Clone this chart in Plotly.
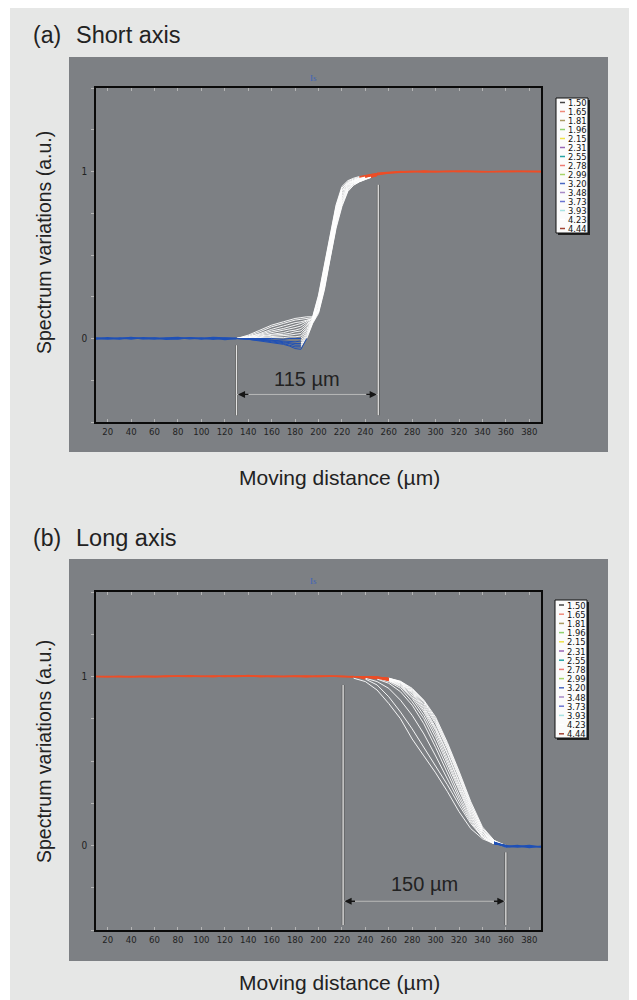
import plotly.graph_objects as go

# ---------------- data ----------------
legend_labels = ["1.50", "1.65", "1.81", "1.96", "2.15", "2.31", "2.55", "2.78",
                 "2.99", "3.20", "3.48", "3.73", "3.93", "4.23", "4.44"]
legend_colors = ["#454545", "#ef8a7a", "#a89a62", "#8fd06e", "#efe24a", "#9a66b4",
                 "#26a3a3", "#ef7a72", "#a6d468", "#4a68c2", "#a88ac6", "#6a74d2",
                 "#a8e2e2", "#ffffff", "#a24434"]

x_tick_vals = [20, 40, 60, 80, 100, 120, 140, 160, 180, 200, 220, 240, 260, 280, 300, 320, 340, 360, 380]
x_tick_text = [str(v) for v in x_tick_vals]
y_tick_vals = [-0.5, -0.25, 0, 0.25, 0.5, 0.75, 1, 1.25, 1.5]
y_tick_text = ["", "", "0", "", "", "", "1", "", ""]

# Panel (a) short axis
xa_base = [10, 20, 30, 40, 50, 60, 70, 80, 90, 100, 110, 120, 130]
ya_base_1 = [0.0, 0.005, -0.003, 0.004, 0.0, -0.004, 0.003, 0.006, -0.002, 0.003, -0.005, 0.002, 0.0]
ya_base_2 = [-0.004, 0.0, 0.004, -0.003, 0.005, 0.002, -0.005, 0.0, 0.004, -0.003, 0.003, -0.006, 0.0]
ya_base_3 = [0.003, -0.003, 0.0, 0.006, -0.002, 0.004, 0.0, -0.004, 0.005, 0.0, 0.006, 0.003, 0.0]

xa_trans = [130, 140, 150, 160, 170, 175, 180, 185, 190, 195, 200, 205, 210, 215, 220, 225, 230, 235, 240, 245, 250]
ya_curves = [
    [0.0, 0.02, 0.05, 0.08, 0.10, 0.11, 0.12, 0.125, 0.13, 0.13, 0.26, 0.44, 0.63, 0.80, 0.91, 0.945, 0.96, 0.97, 0.978, 0.983, 0.988],
    [0.0, 0.015, 0.04, 0.07, 0.09, 0.10, 0.11, 0.115, 0.12, 0.125, 0.25, 0.42, 0.61, 0.79, 0.90, 0.94, 0.955, 0.965, 0.975, 0.982, 0.987],
    [0.0, 0.01, 0.03, 0.055, 0.075, 0.085, 0.095, 0.10, 0.11, 0.12, 0.24, 0.41, 0.60, 0.78, 0.90, 0.935, 0.95, 0.962, 0.972, 0.98, 0.985],
    [0.0, 0.01, 0.025, 0.045, 0.06, 0.07, 0.08, 0.09, 0.105, 0.12, 0.23, 0.40, 0.59, 0.77, 0.89, 0.93, 0.948, 0.96, 0.97, 0.978, 0.985],
    [0.0, 0.005, 0.02, 0.035, 0.05, 0.055, 0.065, 0.075, 0.10, 0.12, 0.22, 0.39, 0.58, 0.76, 0.885, 0.928, 0.945, 0.958, 0.968, 0.977, 0.984],
    [0.0, 0.005, 0.015, 0.025, 0.035, 0.045, 0.05, 0.06, 0.09, 0.115, 0.21, 0.38, 0.57, 0.75, 0.88, 0.925, 0.943, 0.955, 0.966, 0.975, 0.983],
    [0.0, 0.0, 0.01, 0.02, 0.025, 0.03, 0.04, 0.045, 0.08, 0.115, 0.20, 0.37, 0.56, 0.74, 0.87, 0.92, 0.94, 0.953, 0.965, 0.974, 0.982],
    [0.0, 0.0, 0.005, 0.01, 0.015, 0.02, 0.025, 0.03, 0.07, 0.11, 0.19, 0.36, 0.55, 0.73, 0.86, 0.915, 0.938, 0.952, 0.963, 0.973, 0.981],
    [0.0, 0.0, 0.0, 0.005, 0.005, 0.01, 0.01, 0.015, 0.06, 0.11, 0.18, 0.35, 0.54, 0.72, 0.85, 0.91, 0.935, 0.95, 0.962, 0.972, 0.98],
    [0.0, 0.0, 0.0, 0.0, -0.005, 0.0, 0.0, 0.0, 0.05, 0.105, 0.18, 0.34, 0.53, 0.71, 0.84, 0.905, 0.932, 0.948, 0.96, 0.97, 0.98],
    [0.0, 0.0, -0.005, -0.01, -0.015, -0.02, -0.02, -0.015, 0.04, 0.105, 0.17, 0.33, 0.52, 0.70, 0.83, 0.90, 0.93, 0.946, 0.958, 0.969, 0.979],
    [0.0, 0.0, -0.005, -0.01, -0.02, -0.025, -0.03, -0.03, 0.03, 0.10, 0.17, 0.32, 0.51, 0.69, 0.82, 0.895, 0.928, 0.944, 0.957, 0.968, 0.978],
    [0.0, -0.005, -0.01, -0.015, -0.025, -0.03, -0.04, -0.04, 0.02, 0.10, 0.16, 0.31, 0.50, 0.68, 0.81, 0.89, 0.925, 0.942, 0.955, 0.967, 0.977],
    [0.0, -0.005, -0.01, -0.02, -0.03, -0.04, -0.05, -0.05, 0.01, 0.095, 0.16, 0.30, 0.49, 0.67, 0.80, 0.885, 0.92, 0.94, 0.953, 0.966, 0.976],
    [0.0, -0.005, -0.015, -0.025, -0.035, -0.045, -0.06, -0.065, 0.0, 0.09, 0.15, 0.29, 0.48, 0.66, 0.79, 0.88, 0.918, 0.938, 0.952, 0.965, 0.975],
]
xa_plat = [250, 260, 270, 280, 290, 300, 310, 320, 330, 340, 350, 360, 370, 380, 390]
ya_plat_1 = [0.980, 0.990, 0.995, 0.998, 1.000, 0.998, 1.002, 1.000, 0.999, 1.001, 1.000, 0.998, 1.000, 1.001, 1.000]
ya_plat_2 = [0.985, 0.993, 0.998, 1.002, 0.997, 1.001, 0.999, 1.002, 1.000, 0.998, 1.001, 1.000, 0.999, 1.000, 0.999]
ya_plat_3 = [0.990, 0.996, 1.001, 0.999, 1.003, 1.000, 0.998, 1.000, 1.002, 1.000, 0.999, 1.002, 1.001, 0.999, 1.000]

# Panel (b) long axis
xb_plat = [10, 20, 30, 40, 50, 60, 70, 80, 90, 100, 110, 120, 130, 140, 150, 160, 170, 180, 190, 200, 210, 220, 230]
yb_plat_1 = [1.000, 0.998, 1.001, 1.000, 0.999, 1.002, 1.000, 1.004, 1.001, 0.999, 1.003, 1.000, 1.005, 1.001, 1.000, 1.003, 0.999, 1.002, 1.000, 1.004, 1.001, 0.999, 1.000]
yb_plat_2 = [0.999, 1.001, 1.000, 0.998, 1.002, 1.000, 0.999, 1.001, 1.005, 1.000, 0.998, 1.004, 1.001, 1.006, 0.999, 1.000, 1.002, 1.000, 1.004, 0.999, 1.000, 1.002, 0.998]
yb_plat_3 = [1.001, 1.000, 0.999, 1.002, 1.000, 0.998, 1.003, 1.000, 0.999, 1.002, 1.001, 0.998, 1.000, 1.002, 1.004, 0.999, 1.001, 1.000, 0.998, 1.002, 1.003, 1.000, 0.997]

xb_trans = [230, 240, 250, 260, 270, 280, 290, 300, 310, 320, 330, 340, 350, 360]
yb_curves = [
    [0.99, 0.97, 0.92, 0.84, 0.75, 0.63, 0.53, 0.43, 0.32, 0.20, 0.10, 0.04, 0.01, 0.0],
    [1.0, 0.985, 0.95, 0.88, 0.79, 0.69, 0.58, 0.47, 0.36, 0.24, 0.13, 0.05, 0.01, 0.0],
    [1.0, 0.99, 0.97, 0.93, 0.86, 0.77, 0.66, 0.53, 0.39, 0.26, 0.14, 0.05, 0.01, 0.0],
    [1.0, 0.995, 0.985, 0.96, 0.91, 0.83, 0.72, 0.58, 0.43, 0.28, 0.15, 0.05, 0.01, -0.005],
    [1.0, 0.995, 0.99, 0.97, 0.93, 0.85, 0.75, 0.61, 0.46, 0.30, 0.16, 0.06, 0.015, 0.0],
    [1.0, 0.998, 0.99, 0.975, 0.94, 0.87, 0.77, 0.64, 0.48, 0.32, 0.17, 0.06, 0.01, 0.0],
    [1.0, 0.998, 0.992, 0.978, 0.945, 0.88, 0.79, 0.66, 0.50, 0.34, 0.18, 0.07, 0.015, -0.005],
    [1.0, 0.998, 0.993, 0.98, 0.95, 0.89, 0.80, 0.68, 0.52, 0.35, 0.19, 0.07, 0.02, 0.0],
    [1.0, 0.999, 0.994, 0.982, 0.955, 0.90, 0.81, 0.69, 0.54, 0.37, 0.20, 0.08, 0.02, -0.01],
    [1.0, 0.999, 0.995, 0.985, 0.96, 0.905, 0.82, 0.70, 0.55, 0.38, 0.21, 0.08, 0.02, -0.005],
    [1.0, 0.999, 0.995, 0.985, 0.962, 0.91, 0.83, 0.72, 0.57, 0.40, 0.22, 0.09, 0.025, 0.0],
    [1.0, 0.999, 0.996, 0.988, 0.965, 0.915, 0.84, 0.73, 0.58, 0.41, 0.23, 0.09, 0.02, -0.01],
    [1.0, 1.0, 0.996, 0.988, 0.968, 0.92, 0.85, 0.74, 0.59, 0.42, 0.24, 0.10, 0.03, -0.005],
    [1.0, 1.0, 0.997, 0.99, 0.97, 0.925, 0.855, 0.75, 0.60, 0.43, 0.25, 0.10, 0.025, -0.01],
    [1.0, 1.0, 0.997, 0.99, 0.972, 0.93, 0.86, 0.76, 0.61, 0.44, 0.26, 0.11, 0.03, 0.0],
]
xb_tail = [360, 370, 380, 390]
yb_tail_1 = [0.0, -0.01, -0.005, -0.01]
yb_tail_2 = [-0.005, 0.0, -0.012, -0.004]
yb_tail_3 = [-0.01, -0.006, 0.0, -0.008]

# dimension markers: (left x, right x, label)
dim_a = (130, 251, "115 µm")
dim_b = (221, 360, "150 µm")

# ---------------- styling ----------------
OFF = 8                      # default page margin of the html body
W, H = 637 - OFF, 1000 - OFF
BLUE = "#1f50b6"
RED = "#ee4d26"
WHITE = "rgba(255,255,255,0.92)"
PANEL = "#7d8084"
PAGE = "#e6e7e6"
TXT = "#222222"
MAIN_FONT = "Liberation Sans, Arial, Helvetica, sans-serif"
NARROW_FONT = "Liberation Sans Narrow, Arial Narrow, DejaVu Sans Condensed, sans-serif"


def px(x):
    return (x - OFF) / W


def py(y):
    return 1 - (y - OFF) / H


def split_runs(xs, ys, classify):
    """Split a polyline into runs of same-colour segments."""
    runs = {}
    cur_cls, cur_x, cur_y = None, [], []
    for i in range(len(xs) - 1):
        c = classify(ys[i], ys[i + 1])
        if c != cur_cls:
            if cur_cls is not None:
                runs.setdefault(cur_cls, []).append((cur_x, cur_y))
            cur_cls, cur_x, cur_y = c, [xs[i]], [ys[i]]
        cur_x.append(xs[i + 1])
        cur_y.append(ys[i + 1])
    if cur_cls is not None:
        runs.setdefault(cur_cls, []).append((cur_x, cur_y))
    return runs


def cls_a(y1, y2):
    if min(y1, y2) >= 0.965:
        return "red"
    if max(y1, y2) <= 0.003:
        return "blue"
    return "white"


def cls_b(y1, y2):
    if min(y1, y2) >= 0.975:
        return "red"
    if max(y1, y2) <= 0.02:
        return "blue"
    return "white"


colors = {"blue": BLUE, "red": RED, "white": WHITE}

fig = go.Figure()


def add_panel(xa, ya, base_x, base_list, base_col, trans_x, curves, classify, end_x, end_list, end_col):
    for yb in base_list:
        fig.add_trace(go.Scatter(x=base_x, y=yb, mode="lines", xaxis=xa, yaxis=ya,
                                 line=dict(color=colors[base_col], width=1.3), hoverinfo="skip"))
    for yb in end_list:
        fig.add_trace(go.Scatter(x=end_x, y=yb, mode="lines", xaxis=xa, yaxis=ya,
                                 line=dict(color=colors[end_col], width=1.3), hoverinfo="skip"))
    merged = {"white": ([], []), "blue": ([], []), "red": ([], [])}
    for cy in curves:
        runs = split_runs(trans_x, cy, classify)
        for k, lst in runs.items():
            for rx, ry in lst:
                merged[k][0].extend(rx + [None])
                merged[k][1].extend(ry + [None])
    for k in ["white", "blue", "red"]:
        fig.add_trace(go.Scatter(x=merged[k][0], y=merged[k][1], mode="lines", xaxis=xa, yaxis=ya,
                                 line=dict(color=colors[k], width=1), connectgaps=False, hoverinfo="skip"))


add_panel("x", "y", xa_base, [ya_base_1, ya_base_2, ya_base_3], "blue",
          xa_trans, ya_curves, cls_a, xa_plat, [ya_plat_1, ya_plat_2, ya_plat_3], "red")
add_panel("x2", "y2", xb_plat, [yb_plat_1, yb_plat_2, yb_plat_3], "red",
          xb_trans, yb_curves, cls_b, xb_tail, [yb_tail_1, yb_tail_2, yb_tail_3], "blue")

axis_common_x = dict(range=[10, 390], tickvals=x_tick_vals, ticktext=x_tick_text,
                     ticks="inside", ticklen=3, tickcolor="#b4b4b4", tickwidth=1,
                     showline=True, linecolor="#0a0a0a", linewidth=1.6, mirror="ticks",
                     showgrid=False, zeroline=False,
                     tickfont=dict(family=NARROW_FONT, size=9.5, color=TXT), fixedrange=True)
axis_common_y = dict(range=[-0.5, 1.5], tickvals=y_tick_vals, ticktext=y_tick_text,
                     ticks="outside", ticklen=3, tickcolor="#b4b4b4", tickwidth=1,
                     showline=True, linecolor="#0a0a0a", linewidth=1.6, mirror=True,
                     showgrid=False, zeroline=False, ticklabelstandoff=2,
                     tickfont=dict(family=NARROW_FONT, size=10, color=TXT), fixedrange=True)

dom_x = [px(96), px(541)]
fig.update_layout(
    width=W, height=H, margin=dict(l=0, r=0, t=0, b=0),
    paper_bgcolor="white", plot_bgcolor=PANEL, showlegend=False,
    font=dict(family=MAIN_FONT, color=TXT),
    xaxis=dict(domain=dom_x, anchor="y", **axis_common_x),
    yaxis=dict(domain=[py(422), py(88)], anchor="x", **axis_common_y),
    xaxis2=dict(domain=dom_x, anchor="y2", **axis_common_x),
    yaxis2=dict(domain=[py(930), py(592)], anchor="x2", **axis_common_y),
)

shapes = []
annotations = []
# page background and panels
shapes.append(dict(type="rect", xref="paper", yref="paper", x0=px(10), x1=1, y0=0, y1=1,
                   fillcolor=PAGE, line=dict(width=0), layer="below"))
for top, bot in [(57, 452), (559, 961)]:
    shapes.append(dict(type="rect", xref="paper", yref="paper", x0=px(69), x1=px(608), y0=py(bot), y1=py(top),
                       fillcolor=PANEL, line=dict(width=0), layer="below"))

# panel headers & axis titles
for (lab, name, ytxt, yis, yttl, yxt) in [("(a)", "Short axis", 35, 78, 243, 477),
                                            ("(b)", "Long axis", 538, 581, 752, 982)]:
    annotations.append(dict(xref="paper", yref="paper", x=px(31), y=py(ytxt), text=lab, showarrow=False,
                            xanchor="left", yanchor="middle", font=dict(size=23, color=TXT)))
    annotations.append(dict(xref="paper", yref="paper", x=px(74), y=py(ytxt), text=name, showarrow=False,
                            xanchor="left", yanchor="middle", font=dict(size=23.5, color=TXT)))
    annotations.append(dict(xref="paper", yref="paper", x=px(313), y=py(yis), text="Is", showarrow=False,
                            xanchor="center", yanchor="middle",
                            font=dict(size=9, color="#3d64b8", family="Liberation Serif, serif")))
    annotations.append(dict(xref="paper", yref="paper", x=px(44), y=py(yttl), text="Spectrum variations (a.u.)",
                            showarrow=False, textangle=-90, xanchor="center", yanchor="middle",
                            font=dict(size=19.5, color=TXT)))
    annotations.append(dict(xref="paper", yref="paper", x=px(339), y=py(yxt), text="Moving distance (µm)",
                            showarrow=False, xanchor="center", yanchor="middle", font=dict(size=21, color=TXT)))

# legends
for (lx0, lx1, ly0, ly1, first, step) in [(556, 588, 98, 233, 102.5, 9.0), (555, 587, 600, 738, 605, 9.2)]:
    shapes.append(dict(type="rect", xref="paper", yref="paper", x0=px(lx0 + 2), x1=px(lx1 + 2),
                       y0=py(ly1 + 2), y1=py(ly0 + 2), fillcolor="#202020", line=dict(width=0), layer="above"))
    shapes.append(dict(type="rect", xref="paper", yref="paper", x0=px(lx0), x1=px(lx1),
                       y0=py(ly1), y1=py(ly0), fillcolor="#fbfbfb", line=dict(color="#111", width=1), layer="above"))
    for i, (lab, col) in enumerate(zip(legend_labels, legend_colors)):
        yy = first + i * step
        shapes.append(dict(type="line", xref="paper", yref="paper", x0=px(lx0 + 4), x1=px(lx0 + 9),
                           y0=py(yy), y1=py(yy), line=dict(color=col, width=1.5), layer="above"))
        annotations.append(dict(xref="paper", yref="paper", x=px(lx0 + 10), y=py(yy), text=lab, showarrow=False,
                                xanchor="left", yanchor="middle",
                                font=dict(family=NARROW_FONT, size=9.3, color="#111")))


# dimension lines
def add_dim(xr, yr, dim, left_top, right_top, bottom, arrow_y, text_y):
    x1, x2, label = dim
    for xv, top in [(x1, left_top), (x2, right_top)]:
        shapes.append(dict(type="line", xref=xr, yref=yr, x0=xv, x1=xv, y0=bottom, y1=top,
                           line=dict(color="#4a4a4a", width=2.6), layer="above"))
        shapes.append(dict(type="line", xref=xr, yref=yr, x0=xv, x1=xv, y0=bottom, y1=top,
                           line=dict(color="#e2e2e2", width=1.4), layer="above"))
    shapes.append(dict(type="line", xref=xr, yref=yr, x0=x1, x1=x2, y0=arrow_y, y1=arrow_y,
                       line=dict(color="#b8b8b8", width=1), layer="above"))
    for xv, ax in [(x1, 12), (x2, -12)]:
        annotations.append(dict(xref=xr, yref=yr, x=xv + (1.2 if ax > 0 else -1.2), y=arrow_y, ax=ax, ay=0,
                                text="", showarrow=True, arrowhead=2, arrowsize=1.1, arrowwidth=1.3,
                                arrowcolor="#151515", standoff=0))
    annotations.append(dict(xref=xr, yref=yr, x=(x1 + x2) / 2, y=text_y, text=label, showarrow=False,
                            xanchor="center", yanchor="middle", font=dict(size=20, color=TXT)))


add_dim("x", "y", dim_a, -0.04, 0.92, -0.46, -0.335, -0.24)
add_dim("x2", "y2", dim_b, 0.95, -0.04, -0.47, -0.33, -0.23)

fig.update_layout(shapes=shapes, annotations=annotations)
fig.write_html("out.html")
